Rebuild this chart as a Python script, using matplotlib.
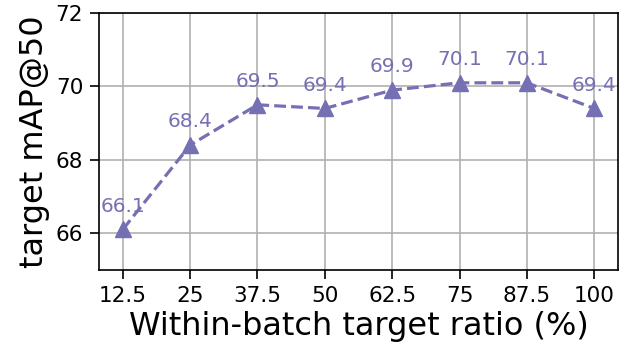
import matplotlib
matplotlib.use("Agg")
import matplotlib.pyplot as plt

ratios = ["12.5", "25", "37.5", "50", "62.5", "75", "87.5", "100"]
map50 = [66.1, 68.4, 69.5, 69.4, 69.9, 70.1, 70.1, 69.4]
yticks = [66, 68, 70, 72]
color = "#7570b3"

fig, ax = plt.subplots(figsize=(6.24, 3.55), dpi=100)
xs = list(range(len(ratios)))
ax.plot(xs, map50, linestyle="--", color=color, linewidth=2.3,
        marker="^", markersize=12, zorder=3)
for x, v in zip(xs, map50):
    ax.text(x, v + 0.38, f"{v:.1f}", ha="center", va="bottom",
            color=color, fontsize=14.5, zorder=4)

ax.set_xticks(xs)
ax.set_xticklabels(ratios)
ax.set_yticks(yticks)
ax.set_ylim(65, 72)
ax.tick_params(labelsize=15.5, length=6.5, width=1.2, pad=5)
ax.grid(True, color="#b0b0b0", linewidth=1.2)
ax.set_axisbelow(True)
for s in ax.spines.values():
    s.set_linewidth(1.2)
ax.set_xlabel("Within-batch target ratio (%)", fontsize=23)
ax.set_ylabel("target mAP@50", fontsize=23)

fig.subplots_adjust(left=0.159, right=0.99, top=0.963, bottom=0.24)
fig.savefig("out.png", dpi=100)
